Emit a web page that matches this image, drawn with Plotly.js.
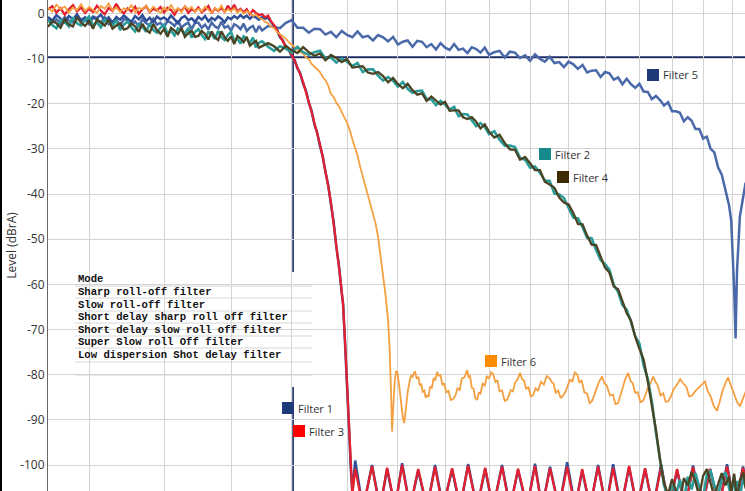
<!DOCTYPE html>
<html>
<head>
<meta charset="utf-8">
<script src="https://cdn.plot.ly/plotly-3.0.1.min.js"></script>
<style>html,body{margin:0;padding:0;background:#fff;}#chart{width:745px;height:491px;}</style>
</head>
<body>
<div id="chart"></div>
<script>
// ---------- DATA (frequency in kHz, level in dBrA) ----------
const passFreq = [
15.0,15.1,15.2,15.3,15.4,15.5,15.6,15.7,15.8,15.9,
16.0,16.1,16.2,16.3,16.4,16.5,16.6,16.7,16.8,16.9,
17.0,17.1,17.2,17.3,17.4,17.5,17.6,17.7,17.8,17.9,
18.0,18.1,18.2,18.3,18.4,18.5,18.6,18.7,18.8,18.9,
19.0,19.1,19.2,19.3,19.4,19.5,19.6,19.7,19.8,19.9,
20.0,20.1,20.2,20.3,20.4,20.5,20.6,20.7,20.8,20.9];

const midFreq = [
21.0,21.2,21.4,21.6,21.8,22.0,22.2,22.4,22.6,22.8,
23.0,23.2,23.4,23.6,23.8,24.0,24.2,24.4,24.6,24.8,
25.0,25.2,25.4,25.6,25.8,26.0,26.2,26.4,26.6,26.8,
27.0,27.2,27.4,27.6,27.8,28.0,28.2,28.4,28.6,28.8,
29.0,29.2,29.4,29.6,29.8,
30.0,30.25,30.5,30.75,31.0,31.25,31.5,31.75,32.0,32.25,
32.5,32.75,33.0,33.25,33.5,33.75,34.0,34.25,34.5,34.75,
35.0,35.25,35.5,35.75,36.0,36.25,36.5,36.75,37.0,37.25,
37.5,37.75,38.0,38.25,38.5,38.75,39.0,39.25,39.5,39.75,
40.0,40.25,40.5,40.75,41.0,41.25,41.5,41.75,42.0,42.25,
42.5,42.75,43.0,43.25,
43.5,43.75,43.9,44.0,44.1,44.2,44.3,44.5,44.75,44.9];

const sharpTailFreq = [
21.0,21.1,21.2,21.3,21.4,21.5,21.6,21.7,21.8,21.9,
22.0,22.1,22.2,22.3,22.4,22.5,22.6,22.7,22.8,22.9,
23.0,23.1,23.2,23.3,23.4,23.5,23.6,23.7,23.8,
23.85,23.92,23.98,24.03,24.09,24.14,24.2];

const rippleFreq = [
24.31,24.61,24.96,25.28,25.56,25.88,26.17,26.50,26.84,27.22,
27.56,27.91,28.31,28.67,29.03,29.44,29.82,30.19,30.62,31.01,
31.40,31.85,32.25,32.61,33.02,33.49,33.92,34.35,34.73,35.17,
35.61,36.06,36.46,36.92,37.39,37.86,38.34,38.82,39.32,39.81,
40.32,40.83,41.34,41.93,42.46,43.07,43.61,44.16,44.72,45.22];

const filter6TailFreq = [
21.0,21.1,21.2,21.3,21.4,21.5,21.6,21.7,21.8,21.9,
22.0,22.1,22.2,22.3,22.4,22.5,22.6,22.7,22.8,22.9,
23.0,23.1,23.2,23.3,23.4,23.5,23.6,23.7,23.8,23.9,
24.0,24.1,24.2,24.3,24.4,24.5,24.6,24.7,24.8,24.9,
25.0,25.1,25.2,25.3,25.4,25.5,25.6,25.66,25.72,25.76,
25.80,25.86,25.92,25.98,26.05,26.12,26.2,26.26,26.32,26.4];

const filter6StopFreq = [
26.5,26.55,26.6,26.66,26.71,26.78,26.85,26.91,26.97,27.03,
27.1,27.16,27.22,27.28,27.35,27.42,27.5,27.57,27.65,27.72,
27.8,27.88,27.95,28.05,28.15,28.25,28.35,28.45,28.55,28.65,
28.75,28.87,28.99,29.05,29.12,29.2,29.28,29.36,29.44,29.52,
29.6,29.7,29.8,29.9,30.0,30.1,30.19,30.3,30.4,30.5,
30.62,30.75,30.87,30.96,31.05,31.15,31.25,31.38,31.5,31.6,
31.7,31.8,31.92,32.03,32.15,32.28,32.4,32.55,32.7,32.85,
33.02,33.1,33.2,33.32,33.45,33.58,33.71,33.83,33.95,34.08,
34.2,34.33,34.46,34.58,34.7,34.85,35.0,35.14,35.28,35.4,
35.5,35.65,35.83,35.96,36.1,36.28,36.45,36.6,36.75,36.88,
37.0,37.17,37.33,37.46,37.6,37.75,37.9,38.06,38.22,38.36,
38.5,38.67,38.83,38.96,39.1,39.28,39.45,39.6,39.75,39.92,
40.1,40.3,40.51,40.7,40.9,41.09,41.28,41.5,41.7,41.92,
42.13,42.3,42.5,42.72,42.93,43.1,43.3,43.5,43.68,43.9,
44.1,44.3,44.51,44.7,44.9];

// Filter 1 : Sharp roll-off
const filter1Pass = [
-0.8,-1.6,-0.4,-1.2,-2.0,-0.6,-1.3,-0.2,-1.5,-0.9,
-1.8,-0.7,-1.1,-0.3,-1.6,-0.9,-2.1,-0.8,-1.4,-0.5,
-1.2,-1.9,-0.6,-1.3,-0.4,-1.7,-1.0,-2.0,-0.7,-1.3,
-0.9,-1.6,-0.5,-1.4,-2.2,-1.0,-0.6,-1.5,-1.1,-1.9,
-0.8,-1.4,-0.6,-1.8,-1.0,-1.5,-0.7,-1.2,-2.0,-0.9,
-1.3,-0.6,-1.1,-0.4,-1.0,-0.5,-1.2,-0.6,-0.9,-1.4];
const filter1Tail = [
-0.8,-1.2,-1.0,-1.9,-2.9,-3.6,-5.3,-6.0,-7.6,-8.0,
-9.5,-10.3,-12.2,-13.3,-15.6,-17.1,-19.8,-21.6,-24.6,-26.4,
-29.4,-31.6,-35.2,-38.0,-42.3,-46.1,-51.7,-56.0,-61.9,
-64.2,-72.5,-79.2,-87.4,-93.7,-100.6,-106.0];
const filter1Ripple = [
-99.0,-109.8,-100.0,-109.5,-100.9,-109.6,-99.6,-109.4,-101.2,-109.7,
-100.0,-109.3,-101.0,-109.6,-99.8,-109.5,-100.9,-109.8,-100.0,-109.4,
-101.1,-109.6,-99.7,-109.5,-100.4,-109.7,-99.4,-109.3,-101.2,-109.6,
-100.0,-109.5,-99.8,-109.4,-100.5,-109.7,-100.9,-109.5,-99.9,-109.6,
-101.2,-109.4,-100.1,-109.7,-101.0,-109.3,-99.8,-109.6,-100.3,-109.5];

// Filter 3 : Short delay sharp roll off
const filter3Pass = [
0.8,1.6,0.2,1.1,-0.3,0.9,1.8,0.4,1.3,0.1,
1.0,0.3,1.7,0.6,-0.2,1.2,0.5,2.1,0.7,0.0,
1.1,0.4,1.5,-0.1,0.9,1.6,0.3,1.0,0.6,1.4,
0.2,1.2,0.7,-0.3,1.0,0.5,1.5,0.1,0.9,0.4,
1.3,0.2,0.8,1.6,0.0,1.1,0.5,1.2,0.3,1.7,
0.6,1.9,0.4,1.0,0.2,0.9,-0.2,0.7,0.1,-0.4];
const filter3Tail = [
-0.2,-0.9,-0.5,-1.8,-2.6,-3.9,-5.0,-6.2,-7.3,-8.2,
-9.2,-10.5,-11.9,-13.5,-15.3,-17.3,-19.4,-21.8,-24.3,-26.6,
-29.0,-31.8,-34.8,-38.2,-41.8,-46.4,-51.2,-56.3,-61.5,
-64.5,-72.0,-79.5,-87.0,-94.0,-100.4,-106.5];
const filter3Ripple = [
-100.8,-109.5,-100.2,-109.8,-100.6,-109.3,-100.0,-109.6,-100.9,-109.4,
-100.4,-109.7,-100.7,-109.2,-100.1,-109.6,-100.6,-109.5,-100.3,-109.8,
-100.8,-109.3,-100.2,-109.6,-100.7,-109.4,-100.4,-109.7,-100.9,-109.3,
-100.3,-109.5,-100.6,-109.6,-100.2,-109.4,-100.7,-109.8,-100.4,-109.3,
-100.9,-109.5,-100.5,-109.6,-100.8,-109.4,-100.3,-109.7,-100.6,-109.5];

// Filter 2 : Slow roll-off
const filter2Pass = [
-1.5,-2.6,-3.3,-1.5,-1.9,-2.9,-0.9,-2.2,-2.7,-1.5,
-0.7,-2.7,-2.0,-3.1,-1.4,-1.9,-2.8,-1.5,-3.7,-2.5,
-1.8,-3.1,-4.0,-2.4,-2.9,-4.1,-2.3,-3.7,-4.3,-3.2,
-2.5,-4.5,-3.8,-4.9,-3.3,-3.7,-4.6,-3.2,-5.4,-4.1,
-3.5,-4.8,-5.7,-4.1,-4.6,-5.7,-3.9,-5.3,-5.9,-4.8,
-4.1,-6.1,-5.6,-6.7,-5.1,-5.7,-6.6,-5.4,-7.6,-6.5];
const filter2Mid = [
-6.2,-7.4,-8.3,-7.3,-7.8,-8.7,-7.4,-8.6,-9.2,-8.6,
-8.3,-10.0,-9.8,-10.9,-10.0,-10.7,-11.7,-11.0,-13.0,-12.4,
-12.4,-13.8,-14.9,-14.1,-14.9,-16.2,-15.2,-16.7,-17.6,-17.2,
-17.1,-19.0,-19.0,-20.3,-19.4,-20.2,-21.3,-20.7,-22.8,-22.3,
-22.4,-23.8,-25.0,-24.3,-25.2,
-26.7,-26.1,-28.0,-29.3,-29.3,-29.6,-32.0,-32.4,-34.2,-33.9,
-35.3,-37.0,-37.1,-39.9,-40.1,-40.9,-43.1,-45.2,-45.4,-47.3,
-49.7,-49.8,-52.4,-54.6,-55.5,-56.8,-60.1,-61.7,-64.6,-65.6,
-68.3,-71.5,-73.1,-77.9,-80.9,-85.9,-92.8,-99.0,-104.5,-107.0,
-104.5,-106.5,-103.2,-107.8,-102.6,-105.4,-101.8,-104.9,-107.2,-102.1,
-101.3,-104.6,-106.8,-103.0,
-101.6,-105.0,-107.5,-104.2,-102.4,-105.8,-103.5,-106.9,-102.8,-104.7];

// Filter 4 : Short delay slow roll off
const filter4Pass = [
-3.0,-1.7,-2.2,-3.2,-1.3,-2.5,-2.9,-0.9,-2.1,-2.8,
-1.7,-3.4,-1.4,-2.0,-2.7,-1.4,-3.4,-2.7,-2.2,-3.6,
-3.3,-2.2,-2.9,-4.1,-2.3,-3.7,-4.3,-2.4,-3.7,-4.5,
-3.5,-5.2,-3.2,-3.8,-4.6,-3.2,-5.2,-4.4,-3.9,-5.2,
-5.0,-3.9,-4.6,-5.8,-4.0,-5.3,-5.9,-4.0,-5.3,-6.1,
-5.1,-6.8,-5.0,-5.6,-6.4,-5.2,-7.2,-6.6,-6.1,-7.6];
const filter4Mid = [
-7.2,-6.6,-7.3,-8.5,-7.2,-8.2,-8.8,-7.5,-8.6,-9.4,
-8.9,-10.4,-9.2,-9.9,-10.8,-10.1,-12.0,-11.8,-11.7,-13.1,
-13.4,-13.0,-13.9,-15.3,-14.3,-15.7,-16.6,-15.6,-17.0,-18.0,
-17.7,-19.4,-18.4,-19.3,-20.2,-19.6,-21.6,-21.5,-21.5,-23.0,
-23.4,-23.0,-24.0,-25.5,-24.6,
-26.2,-27.5,-26.9,-28.7,-30.1,-30.2,-32.4,-31.8,-33.2,-34.7,
-34.7,-37.3,-37.9,-38.6,-40.8,-41.9,-42.3,-44.2,-46.6,-46.7,
-49.2,-51.2,-51.3,-54.0,-56.3,-57.4,-60.5,-61.1,-63.6,-66.4,
-68.0,-71.6,-74.3,-76.6,-81.4,-87.0,-92.2,-98.8,-104.0,-106.5,
-103.1,-105.8,-108.4,-102.9,-104.6,-101.5,-103.8,-106.9,-102.4,-100.9,
-103.7,-107.1,-104.2,-101.8,
-104.5,-102.6,-106.3,-103.9,-101.9,-104.8,-107.2,-103.4,-101.7,-105.2];

// Filter 5 : Super slow roll off
const filter5Pass = [
-1.0,-2.1,-1.3,-2.4,-0.8,-1.6,-2.0,-0.6,-1.8,-1.4,
-2.4,-1.0,-1.3,-2.1,-0.9,-2.4,-1.8,-1.4,-2.7,-1.3,
-1.4,-2.5,-1.8,-2.9,-1.3,-2.2,-2.6,-1.2,-2.5,-2.1,
-3.1,-1.7,-2.1,-2.8,-1.6,-3.2,-2.5,-2.1,-3.5,-2.1,
-2.1,-3.2,-2.5,-3.6,-2.0,-2.9,-3.3,-1.9,-3.2,-2.8,
-3.8,-2.4,-2.8,-3.5,-2.3,-3.9,-3.2,-2.8,-4.2,-2.8];
const filter5Mid = [
-3.8,-2.8,-3.0,-3.3,-2.1,-1.5,-3.2,-3.2,-4.3,-3.4,
-3.5,-4.7,-4.1,-5.3,-3.9,-4.8,-5.3,-4.0,-5.3,-5.0,
-6.0,-4.8,-5.3,-6.2,-5.2,-6.9,-6.3,-6.0,-7.4,-6.1,
-6.3,-7.5,-6.8,-8.0,-6.6,-7.6,-8.1,-6.8,-8.1,-7.8,
-8.8,-7.5,-7.9,-8.7,-7.6,
-9.2,-8.6,-8.3,-9.8,-8.5,-8.7,-9.9,-9.3,-10.5,-9.1,
-10.1,-10.7,-9.6,-11.0,-10.8,-11.9,-10.7,-11.3,-12.3,-11.4,
-13.1,-12.7,-12.6,-14.1,-13.0,-13.3,-14.7,-14.2,-15.7,-14.5,
-15.7,-16.5,-15.6,-17.3,-17.4,-19.0,-18.3,-19.2,-20.4,-19.7,
-21.7,-21.7,-22.0,-23.9,-23.0,-23.8,-25.6,-25.6,-27.7,-27.3,
-30.0,-30.8,-34.1,-35.7,
-39.0,-42.5,-46.0,-52.0,-61.0,-72.0,-57.0,-45.0,-40.0,-37.5];

// Filter 6 : Low dispersion short delay
const filter6Pass = [
1.2,0.4,1.9,0.9,1.5,0.2,1.3,0.7,2.0,0.5,
1.4,0.8,0.1,1.6,1.0,2.2,0.6,1.3,0.3,1.1,
0.7,1.8,0.2,1.2,0.9,1.7,0.4,1.5,0.8,0.1,
1.3,0.6,1.9,0.5,1.1,0.2,1.6,0.9,1.4,0.3,
1.0,0.4,1.5,0.8,0.1,1.2,0.6,1.7,0.3,0.9,
0.5,1.1,0.2,0.8,-0.1,0.5,0.1,-0.6,-0.3,-1.0];
const filter6Tail = [
-1.3,-1.9,-2.2,-3.0,-3.3,-4.1,-4.6,-5.2,-5.6,-6.4,
-6.9,-7.3,-8.0,-8.6,-8.9,-9.8,-10.1,-11.2,-11.8,-12.6,
-13.0,-14.1,-14.8,-16.0,-17.8,-18.5,-19.8,-20.6,-22.0,-23.1,
-24.2,-25.8,-27.9,-29.8,-31.5,-34.0,-36.2,-38.1,-40.5,-42.3,
-44.6,-46.5,-49.5,-53.5,-58.0,-62.5,-68.0,-74.0,-84.0,-92.6,
-88.0,-82.0,-79.2,-79.5,-82.5,-86.5,-89.5,-90.7,-87.5,-83.8];
const filter6Stop = [
-81.0,-80.1,-80.6,-79.6,-79.4,-80.9,-80.5,-82.4,-82.0,-83.8,
-83.5,-85.1,-84.6,-84.9,-82.6,-83.0,-80.7,-81.3,-79.4,-80.2,
-80.1,-82.3,-81.9,-83.9,-83.6,-85.6,-85.4,-84.7,-83.0,-83.4,
-80.8,-80.6,-79.0,-80.5,-80.3,-82.9,-83.1,-85.2,-85.6,-84.0,
-84.2,-82.0,-82.4,-80.3,-80.9,-79.5,-79.8,-81.6,-81.2,-83.7,
-83.5,-85.8,-85.5,-84.6,-83.4,-83.7,-81.8,-81.0,-79.6,-81.0,
-81.3,-83.2,-82.7,-84.8,-84.5,-83.0,-83.6,-81.6,-82.2,-80.3,
-80.9,-81.6,-81.9,-84.0,-83.5,-85.2,-84.6,-83.8,-82.6,-81.0,
-81.6,-79.5,-79.9,-81.8,-81.2,-83.9,-84.2,-86.3,-85.8,-84.5,
-83.2,-81.7,-80.4,-81.9,-82.4,-84.6,-84.4,-86.5,-86.3,-84.8,
-83.1,-80.9,-79.6,-81.3,-81.9,-84.0,-83.9,-86.1,-85.8,-84.5,
-83.0,-81.9,-80.4,-81.5,-82.3,-84.6,-84.1,-86.0,-85.9,-84.9,
-83.2,-82.3,-81.0,-81.9,-82.6,-84.8,-84.6,-83.6,-82.9,-82.3,
-81.5,-83.6,-84.8,-87.0,-88.0,-86.1,-83.6,-81.9,-80.6,-82.6,
-84.2,-86.0,-87.0,-85.6,-83.8];

const seriesNames = ['Filter 1','Filter 2','Filter 3','Filter 4','Filter 5','Filter 6'];
const modeRows = ['Mode','Sharp roll-off filter','Slow roll-off filter',
  'Short delay sharp roll off filter','Short delay slow roll off filter',
  'Super Slow roll Off filter','Low dispersion Shot delay filter'];
const yTickVals = [-100,-90,-80,-70,-60,-50,-40,-30,-20,-10,0];
const yTickText = ['-100','-90','-80','-70','-60','-50','-40','-30','-20','-10','0'];
const xGridVals = [16,18,20,22,24,26,28,30,32,34,36,38,40,42,44];
const markerFreq = 22.05;
const markerLevel = -9.7;

// ---------- CHART ----------
const W = 745, H = 491, ML = 48;
const PW = W - ML, PH = H;
const xr = [Math.log10(15.0), Math.log10(44.86)];
const px = x => (x - ML) / PW;
const py = y => 1 - y / PH;

function line(name, x, y, color, width) {
  return {type:'scatter', mode:'lines', name:name, x:x, y:y,
          line:{color:color, width:width}, hoverinfo:'skip', showlegend:false};
}

const traces = [
  line(seriesNames[4], passFreq.concat(midFreq), filter5Pass.concat(filter5Mid), '#4a69a9', 2.5),
  line(seriesNames[0], passFreq.concat(sharpTailFreq, rippleFreq), filter1Pass.concat(filter1Tail, filter1Ripple), '#31509a', 2.5),
  line(seriesNames[2], passFreq.concat(sharpTailFreq, rippleFreq), filter3Pass.concat(filter3Tail, filter3Ripple), '#e3202f', 2.3),
  line(seriesNames[5], passFreq.concat(filter6TailFreq, filter6StopFreq), filter6Pass.concat(filter6Tail, filter6Stop), '#f5a040', 1.8),
  line(seriesNames[1], passFreq.concat(midFreq), filter2Pass.concat(filter2Mid), '#2a9c99', 2.6),
  line(seriesNames[3], passFreq.concat(midFreq), filter4Pass.concat(filter4Mid), '#4b4424', 2.3)
];

const shapes = [];
const annotations = [];

const labelDefs = [
  {i:4, color:'#1f3a78', sx:647, sy:69},
  {i:1, color:'#168a8a', sx:539, sy:148},
  {i:3, color:'#3d2a00', sx:557, sy:171},
  {i:5, color:'#ff8c00', sx:485, sy:355},
  {i:0, color:'#1f3a78', sx:282, sy:402},
  {i:2, color:'#ff0000', sx:293, sy:425}
];
labelDefs.forEach(d => {
  shapes.push({type:'rect', xref:'paper', yref:'paper', layer:'between',
    x0:px(d.sx-3), x1:px(d.sx+54), y0:py(d.sy-4), y1:py(d.sy+16),
    fillcolor:'#ffffff', line:{width:0}});
});

// crosshair
const cx = (Math.log10(markerFreq) - xr[0]) / (xr[1] - xr[0]);
shapes.push({type:'line', xref:'paper', yref:'paper', layer:'between',
  x0:cx, x1:cx, y0:0, y1:1, line:{color:'#1a2c66', width:1.6}});
shapes.push({type:'line', xref:'paper', yref:'y', layer:'between',
  x0:0, x1:1, y0:markerLevel, y1:markerLevel, line:{color:'#1a2c66', width:1.6}});

// table background and rules
shapes.push({type:'rect', xref:'paper', yref:'paper', layer:'between',
  x0:px(75), x1:px(312), y0:py(387), y1:py(272), fillcolor:'#ffffff', line:{width:0}});
[286, 298, 311, 323, 336, 348, 362, 375].forEach(yy => {
  shapes.push({type:'line', xref:'paper', yref:'paper', layer:'between',
    x0:px(75), x1:px(312), y0:py(yy), y1:py(yy), line:{color:'#d6d6d6', width:1}});
});
const rowY = [279, 292, 304.5, 317, 329.5, 342, 355];
modeRows.forEach((t, k) => {
  annotations.push({xref:'paper', yref:'paper', x:px(76), y:py(rowY[k]),
    xanchor:'left', yanchor:'middle', showarrow:false, text:'<b>'+t+'</b>',
    font:{family:'Liberation Mono, DejaVu Sans Mono, monospace', size:10.6, color:'#111'}});
});

labelDefs.forEach(d => {
  shapes.push({type:'rect', xref:'paper', yref:'paper', layer:'above',
    x0:px(d.sx), x1:px(d.sx+12), y0:py(d.sy+12), y1:py(d.sy),
    fillcolor:d.color, line:{width:0}});
  annotations.push({xref:'paper', yref:'paper', x:px(d.sx+14), y:py(d.sy+6),
    xanchor:'left', yanchor:'middle', showarrow:false, text:seriesNames[d.i],
    font:{family:'Open Sans, sans-serif', size:11, color:'#333'}});
});

shapes.push({type:'line', xref:'paper', yref:'paper', layer:'above',
  x0:px(1), x1:px(1), y0:0, y1:1, line:{color:'#000', width:2}});

const layout = {
  width:W, height:H,
  margin:{l:ML, r:0, t:0, b:0, pad:0},
  paper_bgcolor:'#ffffff', plot_bgcolor:'#ffffff',
  showlegend:false,
  xaxis:{type:'log', range:xr, tickmode:'array', tickvals:xGridVals,
    showticklabels:false, ticks:'', showgrid:true, gridcolor:'#d4d4d4', gridwidth:1,
    zeroline:false, showline:false, fixedrange:true},
  yaxis:{range:[-105.75, 2.95], tickmode:'array', tickvals:yTickVals, ticktext:yTickText,
    ticks:'', showgrid:true, gridcolor:'#d4d4d4', gridwidth:1, zeroline:false,
    showline:true, linecolor:'#666', linewidth:1, automargin:false,
    tickfont:{family:'Open Sans, sans-serif', size:12, color:'#333'},
    title:{text:'Level (dBrA)', standoff:0, font:{family:'Open Sans, sans-serif', size:12, color:'#333'}},
    fixedrange:true},
  shapes:shapes,
  annotations:annotations
};

Plotly.newPlot('chart', traces, layout, {staticPlot:true, displayModeBar:false});
</script>
</body>
</html>
